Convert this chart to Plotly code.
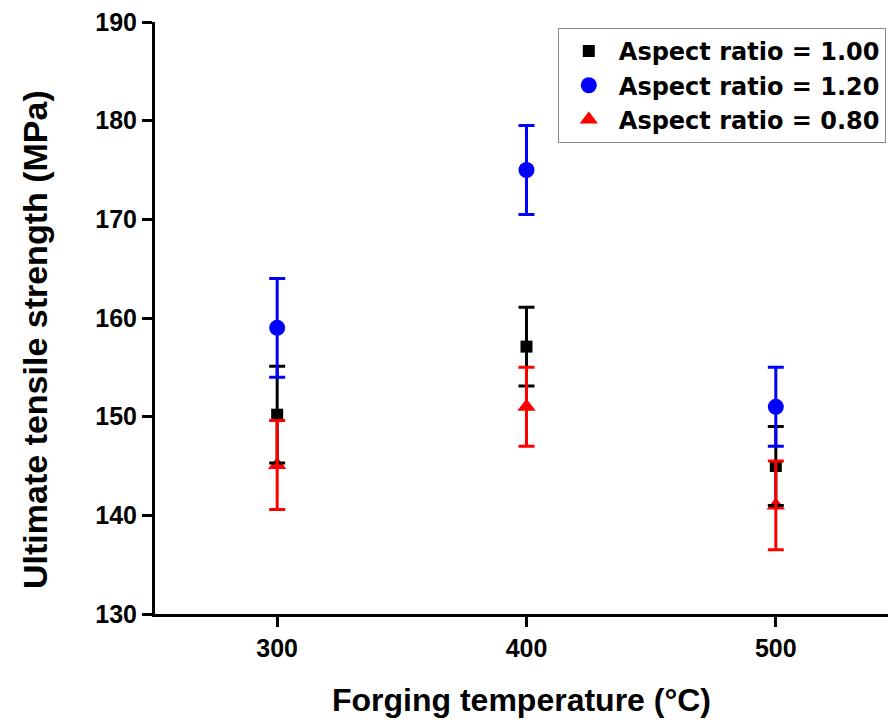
import plotly.graph_objects as go

temps = [300, 400, 500]
names = ["Aspect ratio = 1.00", "Aspect ratio = 1.20", "Aspect ratio = 0.80"]
uts_100 = [150.2, 157.1, 145.0]
err_100 = [4.9, 4.0, 4.0]
uts_120 = [159.0, 175.0, 151.0]
err_120 = [5.0, 4.5, 4.0]
uts_080 = [145.1, 151.0, 141.0]
err_080 = [4.5, 4.0, 4.5]

series = [
    (names[0], uts_100, err_100, "black", "square", 12),
    (names[1], uts_120, err_120, "#0000ff", "circle", 16),
    (names[2], uts_080, err_080, "#ff0000", "triangle-up", 16),
]

fig = go.Figure()
for i, (nm, y, e, c, sym, sz) in enumerate(series):
    fig.add_trace(go.Scatter(
        x=temps, y=y, mode="markers", name=nm,
        marker=dict(color=c, symbol=sym, size=sz, line=dict(width=0)),
    ))
for i, (nm, y, e, c, sym, sz) in enumerate(series):
    fig.add_trace(go.Scatter(
        x=temps, y=y, mode="markers", showlegend=False, hoverinfo="skip",
        marker=dict(color=c, size=1, opacity=0),
        error_y=dict(type="data", array=e, color=c, thickness=3, width=8, visible=True),
    ))

font = "Liberation Sans, Arial, sans-serif"
fig.update_layout(
    width=888, height=723,
    margin=dict(l=155, r=0, t=22, b=109),
    plot_bgcolor="white", paper_bgcolor="white",
    font=dict(family=font, color="black"),
    showlegend=True,
    legend=dict(
        x=0.997, xanchor="right", y=0.99, yanchor="top",
        bgcolor="white", bordercolor="#888888", borderwidth=1,
        font=dict(family="DejaVu Sans, sans-serif", size=24, color="black", weight="bold"),
        itemwidth=50,
    ),
    xaxis=dict(
        range=[251, 545], tickvals=temps, ticktext=[str(t) for t in temps],
        showline=True, linecolor="black", linewidth=3,
        ticks="outside", ticklen=10, tickwidth=3, tickcolor="black",
        showgrid=False, zeroline=False,
        tickfont=dict(family=font, size=25, color="black", weight="bold"),
        title=dict(text="Forging temperature (°C)", standoff=28,
                   font=dict(family=font, size=32, color="black", weight="bold")),
    ),
    yaxis=dict(
        range=[130, 190], tickvals=[130, 140, 150, 160, 170, 180, 190],
        showline=True, linecolor="black", linewidth=3,
        ticks="outside", ticklen=10, tickwidth=3, tickcolor="black",
        showgrid=False, zeroline=False,
        tickfont=dict(family=font, size=25, color="black", weight="bold"),
    ),
    annotations=[dict(
        text="Ultimate tensile strength (MPa)", textangle=-90,
        xref="paper", yref="paper", x=-155 / 733 + 35 / 733, y=(614 - 340) / 592,
        xanchor="center", yanchor="middle", showarrow=False,
        font=dict(family=font, size=34, color="black", weight="bold"),
    )],
)
fig.write_html("out.html")
